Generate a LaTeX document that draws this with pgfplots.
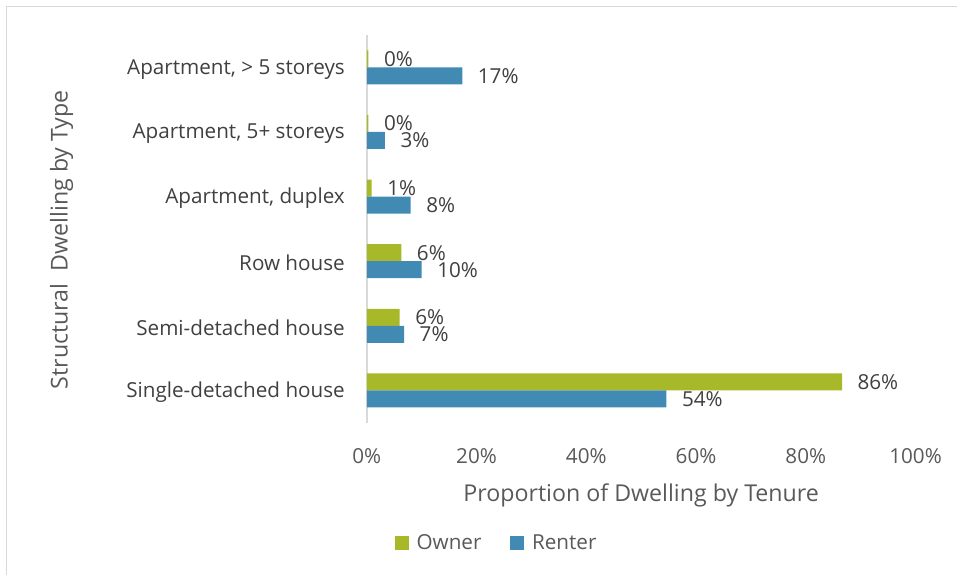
\documentclass[border=0pt]{standalone}
\usepackage{fontspec}
\setmainfont{Open Sans}
\usepackage{pgfplots}
\pgfplotsset{compat=1.18}
\usepackage{pgfplotstable}

\definecolor{owner}{HTML}{A7B928}
\definecolor{renter}{HTML}{418AB3}
\definecolor{txt}{HTML}{404040}
\definecolor{axt}{HTML}{595959}
\definecolor{frame}{HTML}{D9D9D9}

% y index 0 = top category
\pgfplotstableread{
y owner ownerlbl renter renterlbl
0 0.3 0  17.4 17
1 0.3 0  3.3  3
2 0.9 1  8.0  8
3 6.3 6  10.0 10
4 6.0 6  6.8  7
5 86.6 86 54.6 54
}\dwell

\begin{document}
\begin{tikzpicture}
% page box, 957 x 575 px at 0.75pt per px
\path (0pt,0pt) rectangle (717.75pt,431.25pt);
\draw[frame, line width=0.75pt] (5.25pt,0pt) -- (5.25pt,426pt) -- (717.75pt,426pt);
\begin{axis}[
    at={(275.25pt,114pt)}, anchor=south west,
    scale only axis,
    width=411.75pt, height=291pt,
    xbar, bar width=12.75pt,
    xmin=0, xmax=100,
    ymin=-0.5, ymax=5.5,
    y dir=reverse,
    axis x line*=bottom, axis y line*=left,
    x axis line style={draw=none},
    y axis line style={draw=frame, line width=1.5pt},
    major tick length=0pt,
    xtick={0,20,...,100},
    xticklabel={\pgfmathprintnumber{\tick}\%},
    /pgf/number format/assume math mode=true,
    ytick={0,...,5},
    yticklabels={{Apartment, > 5 storeys},{Apartment, 5+ storeys},{Apartment, duplex},{Row house},{Semi-detached house},{Single-detached house}},
    ticklabel style={font=\fontsize{15.5}{19}\selectfont},
    yticklabel style={txt, xshift=-13pt, yshift=-1.5pt},
    xticklabel style={axt, yshift=-15.5pt},
    xlabel={Proportion of Dwelling by Tenure},
    ylabel={Structural\ \ Dwelling by Type},
    label style={axt, font=\fontsize{17.4}{20}\selectfont},
    xlabel style={at={(axis description cs:0.5,-0.186)}, anchor=center},
    ylabel style={at={(axis description cs:-0.556,0.472)}, anchor=center},
    nodes near coords={\pgfplotspointmeta\%},
    point meta=explicit symbolic,
    every node near coord/.append style={txt, font=\fontsize{15.5}{19}\selectfont, anchor=west, inner sep=0pt, xshift=11.5pt},
    legend style={at={(axis description cs:0.237,-0.311)}, anchor=center,
        draw=none, legend columns=2, font=\fontsize{15.5}{19}\selectfont, text=axt,
        /tikz/every even column/.append style={column sep=19.5pt},
        /tikz/every odd column/.append style={column sep=4pt}},
    legend image code/.code={\fill[#1] (-8pt,-5pt) rectangle (2.5pt,5.5pt);},
    clip=false,
]
\addplot[fill=owner, draw=none, bar shift=6.375pt] table[x=owner, y=y, meta=ownerlbl] {\dwell};
\addplot[fill=renter, draw=none, bar shift=-6.375pt] table[x=renter, y=y, meta=renterlbl] {\dwell};
\legend{Owner, Renter}
\end{axis}
\end{tikzpicture}
\end{document}
